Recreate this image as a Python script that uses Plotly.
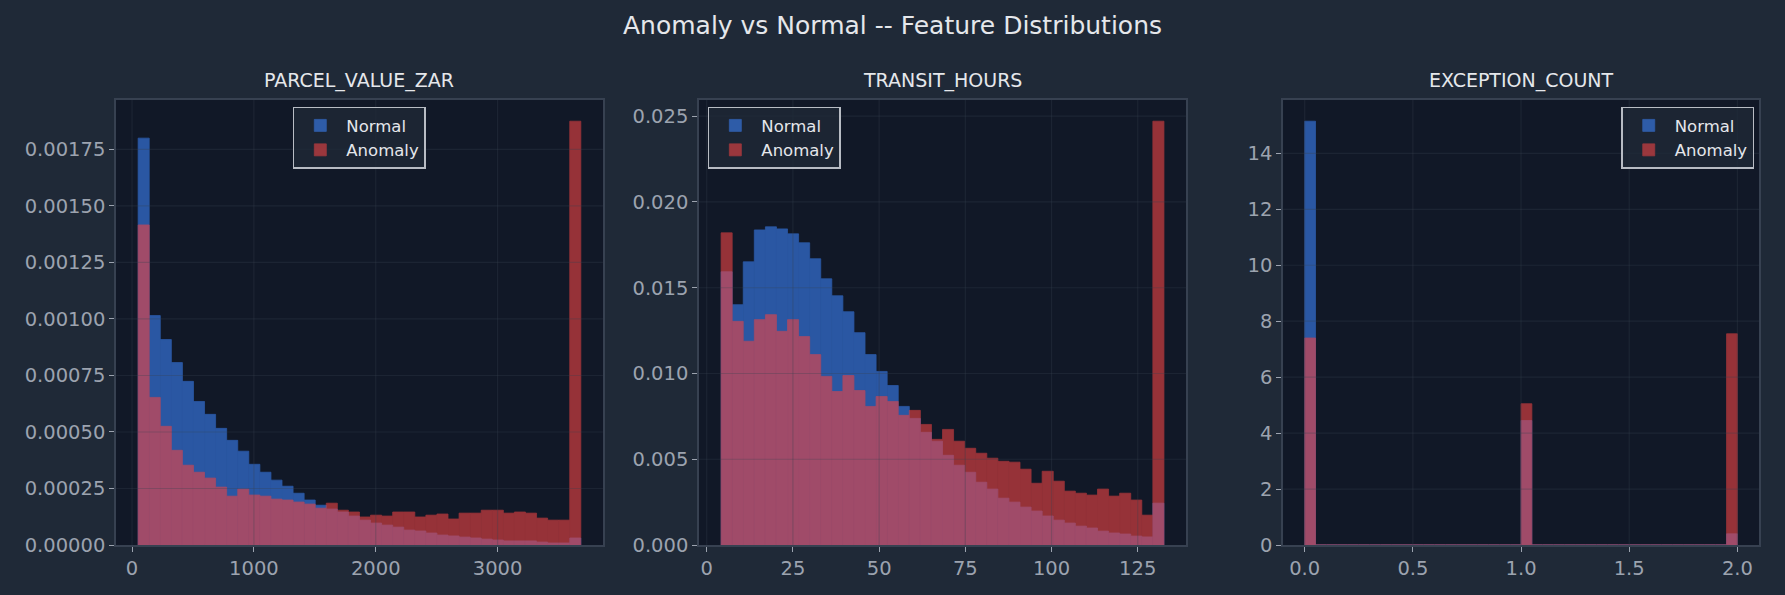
import numpy as np
import plotly.graph_objects as go

# density values (40 bins per feature)
parcel_range = [50, 3683]
parcel_normal = [0.00180, 0.001015, 0.000909, 0.000807, 0.000724, 0.000635, 0.000578, 0.000516,
                 0.000463, 0.000415, 0.000357, 0.000322, 0.000287, 0.000260, 0.000229, 0.000199,
                 0.000176, 0.000159, 0.000146, 0.000128, 0.000110, 0.000097, 0.000088, 0.000079,
                 0.000066, 0.000062, 0.000053, 0.000044, 0.000040, 0.000035, 0.000031, 0.000026,
                 0.000022, 0.000018, 0.000018, 0.000018, 0.000013, 0.000009, 0.000009, 0.000031]
parcel_anomaly = [0.001416, 0.000653, 0.000525, 0.000419, 0.000353, 0.000322, 0.000296, 0.000256,
                  0.000216, 0.000247, 0.000221, 0.000216, 0.000203, 0.000199, 0.000190, 0.000181,
                  0.000163, 0.000185, 0.000154, 0.000146, 0.000124, 0.000132, 0.000128, 0.000146,
                  0.000146, 0.000124, 0.000132, 0.000137, 0.000115, 0.000141, 0.000141, 0.000154,
                  0.000154, 0.000141, 0.000146, 0.000141, 0.000119, 0.000110, 0.000110, 0.001875]

transit_range = [4.17, 132.6]
transit_normal = [0.01593, 0.01401, 0.01651, 0.01837, 0.01855, 0.01843, 0.01814, 0.01762,
                  0.01669, 0.01552, 0.01453, 0.01360, 0.01238, 0.01110, 0.01012, 0.00930,
                  0.00808, 0.00738, 0.00657, 0.00605, 0.00523, 0.00465, 0.00424, 0.00366,
                  0.00326, 0.00273, 0.00250, 0.00221, 0.00198, 0.00169, 0.00145, 0.00128,
                  0.00110, 0.00099, 0.00081, 0.00070, 0.00064, 0.00052, 0.00047, 0.00244]
transit_anomaly = [0.01820, 0.01304, 0.01188, 0.01314, 0.01343, 0.01246, 0.01314, 0.01215,
                   0.01110, 0.00983, 0.00895, 0.00988, 0.00901, 0.00808, 0.00866, 0.00837,
                   0.00756, 0.00785, 0.00703, 0.00616, 0.00674, 0.00605, 0.00564, 0.00535,
                   0.00506, 0.00488, 0.00483, 0.00442, 0.00360, 0.00430, 0.00372, 0.00314,
                   0.00302, 0.00291, 0.00326, 0.00285, 0.00302, 0.00262, 0.00174, 0.02471]

exc_range = [0, 2]
exc_normal = [15.15] + [0] * 19 + [4.45] + [0] * 18 + [0.40]
exc_anomaly = [7.40] + [0] * 19 + [5.05] + [0] * 18 + [7.55]

panels = [
    ("PARCEL_VALUE_ZAR", parcel_range, parcel_normal, parcel_anomaly),
    ("TRANSIT_HOURS", transit_range, transit_normal, transit_anomaly),
    ("EXCEPTION_COUNT", exc_range, exc_normal, exc_anomaly),
]
xticks = [[0, 1000, 2000, 3000], [0, 25, 50, 75, 100, 125], [0, 0.5, 1.0, 1.5, 2.0]]
yticks = [[i * 0.00025 for i in range(8)], [i * 0.005 for i in range(6)], [i * 2 for i in range(8)]]
yfmt = [".5f", ".3f", "d"]
xfmt = ["d", "d", ".1f"]

FIG_BG = "#1f2937"
AX_BG = "#111827"
SPINE = "#374151"
TICK = "#9ca3af"
TEXT = "#e5e7eb"
BLUE = "#3b82f6"
RED = "#ef4444"
GRID = "rgba(55,65,81,0.3)"

domains = [[0.0, 0.2962], [0.3546, 0.6509], [0.7099, 0.9994]]
legend_pos = [(0.148, "center"), (0.3600, "left"), (0.9965, "right")]

fig = go.Figure()
layout = dict(
    width=1785, height=595,
    paper_bgcolor=FIG_BG, plot_bgcolor=AX_BG,
    margin=dict(l=116, r=25, t=100, b=50),
    barmode="overlay",
    font=dict(family="DejaVu Sans", color=TICK, size=18),
    title=dict(text="Anomaly vs Normal -- Feature Distributions", x=0.5, xanchor="center",
               y=0.958, yanchor="middle", font=dict(size=25, color=TEXT)),
    showlegend=True,
)
shapes = []
annotations = []

for i, (name, rng, normal, anomaly) in enumerate(panels):
    n = i + 1
    xa = "x" if n == 1 else f"x{n}"
    ya = "y" if n == 1 else f"y{n}"
    leg = "legend" if n == 1 else f"legend{n}"
    edges = np.linspace(rng[0], rng[1], len(normal) + 1)
    centers = (edges[:-1] + edges[1:]) / 2
    bw = edges[1] - edges[0]

    fig.add_trace(go.Bar(x=centers, y=normal, width=bw, name="Normal", marker_color=BLUE,
                         marker_line=dict(color=BLUE, width=0.8), opacity=0.6,
                         xaxis=xa, yaxis=ya, legend=leg))
    fig.add_trace(go.Bar(x=centers, y=anomaly, width=bw, name="Anomaly", marker_color=RED,
                         marker_line=dict(color=RED, width=0.8), opacity=0.6,
                         xaxis=xa, yaxis=ya, legend=leg))

    xpad = (rng[1] - rng[0]) * 0.05
    ymax = max(max(normal), max(anomaly)) * 1.05
    axis_common = dict(showline=True, mirror=True, linecolor=SPINE, linewidth=1.5,
                       ticks="outside", ticklen=5, tickwidth=1.2, tickcolor=TICK,
                       showgrid=False, zeroline=False,
                       tickfont=dict(size=19.5, color=TICK))
    layout["xaxis" if n == 1 else f"xaxis{n}"] = dict(
        axis_common, domain=domains[i], anchor=ya, range=[rng[0] - xpad, rng[1] + xpad],
        tickvals=xticks[i], tickformat=xfmt[i])
    layout["yaxis" if n == 1 else f"yaxis{n}"] = dict(
        axis_common, domain=[0, 1], anchor=xa, range=[0, ymax],
        tickvals=yticks[i], tickformat=yfmt[i])

    # grid drawn over the bars, like the original
    for xv in xticks[i]:
        shapes.append(dict(type="line", xref=xa, yref=f"{ya} domain", x0=xv, x1=xv, y0=0, y1=1,
                           layer="above", line=dict(color=GRID, width=1.2)))
    for yv in yticks[i][1:]:
        shapes.append(dict(type="line", xref=f"{xa} domain", yref=ya, x0=0, x1=1, y0=yv, y1=yv,
                           layer="above", line=dict(color=GRID, width=1.2)))

    annotations.append(dict(text=name, xref="paper", yref="paper", showarrow=False,
                            x=sum(domains[i]) / 2, y=1.0, yshift=20, xanchor="center",
                            yanchor="middle", font=dict(size=19, color=TEXT)))

    lx, lanchor = legend_pos[i]
    layout[leg] = dict(x=lx, xanchor=lanchor, y=0.985, yanchor="top",
                       bgcolor="rgba(31,41,55,0.8)", bordercolor="#b8bcc4", borderwidth=1.5,
                       font=dict(size=16.5, color=TEXT), itemwidth=42, tracegroupgap=2)

layout["shapes"] = shapes
layout["annotations"] = annotations
fig.update_layout(**layout)

fig.write_html("out.html", config={"displayModeBar": False},
               post_script="document.body.style.margin='0';")
